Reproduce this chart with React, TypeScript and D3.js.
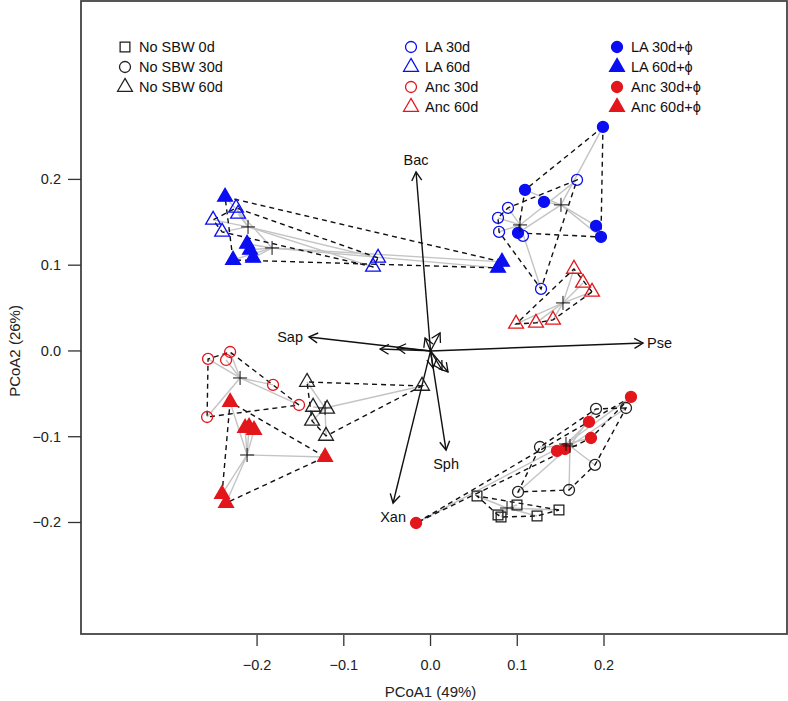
import React from 'react';
import * as d3 from 'd3';

type Pt = [number, number];

// sample scores on PCoA1 / PCoA2
const noSbw0d: Pt[] = [[0.0536, -0.1691], [0.0778, -0.1912], [0.0813, -0.1936], [0.0997, -0.1796], [0.1228, -0.1924], [0.1481, -0.1854]];
const noSbw30d: Pt[] = [[0.1908, -0.0676], [0.2254, -0.0665], [0.1262, -0.1120], [0.1896, -0.1329], [0.1009, -0.1644], [0.1597, -0.1621]];
const noSbw60d: Pt[] = [[-0.1424, -0.0362], [-0.1354, -0.0653], [-0.1193, -0.0676], [-0.1366, -0.0816], [-0.1205, -0.0991], [-0.0098, -0.0408]];
const la30d: Pt[] = [[0.1689, 0.1994], [0.0893, 0.1668], [0.0778, 0.1551], [0.0790, 0.1388], [0.1066, 0.1341], [0.1274, 0.0723]];
const la60d: Pt[] = [[-0.2242, 0.1668], [-0.2219, 0.1598], [-0.2507, 0.1528], [-0.2403, 0.1388], [-0.0605, 0.1085], [-0.0663, 0.0980]];
const anc30d: Pt[] = [[-0.2565, -0.0093], [-0.2311, -0.0012], [-0.2357, -0.0105], [-0.1816, -0.0396], [-0.1516, -0.0630], [-0.2576, -0.0770]];
const anc60d: Pt[] = [[0.1654, 0.0956], [0.1758, 0.0793], [0.1862, 0.0688], [0.1412, 0.0362], [0.1216, 0.0327], [0.0986, 0.0315]];
const la30dPhi: Pt[] = [[0.1988, 0.2612], [0.1089, 0.1878], [0.1308, 0.1738], [0.1908, 0.1458], [0.1965, 0.1329], [0.1009, 0.1376]];
const la60dPhi: Pt[] = [[-0.2369, 0.1796], [-0.2115, 0.1248], [-0.2081, 0.1178], [-0.2046, 0.1085], [-0.2277, 0.1061], [0.0824, 0.1038], [0.0778, 0.0968]];
const anc30dPhi: Pt[] = [[0.2311, -0.0536], [0.1827, -0.0828], [0.1850, -0.1015], [0.1458, -0.1166], [0.1550, -0.1143], [-0.0167, -0.2006]];
const anc60dPhi: Pt[] = [[-0.2311, -0.0595], [-0.2138, -0.0898], [-0.2092, -0.0886], [-0.2035, -0.0921], [-0.1216, -0.1236], [-0.2404, -0.1668], [-0.2357, -0.1773]];

// group centroids (spatial medians), same order as groupNames
const groupNames = ['No SBW 0d', 'No SBW 30d', 'No SBW 60d', 'LA 30d', 'LA 60d', 'Anc 30d', 'Anc 60d', 'LA 30d+ϕ', 'LA 60d+ϕ', 'Anc 30d+ϕ', 'Anc 60d+ϕ'];
const centroids: Pt[] = [[0.0882, -0.1831], [0.1608, -0.1108], [-0.1216, -0.0665], [0.1032, 0.1469], [-0.2104, 0.1446], [-0.2196, -0.0315], [0.1527, 0.0560], [0.1504, 0.1703], [-0.1827, 0.1201], [0.1562, -0.1085], [-0.2115, -0.1213]];
const groupShapes = ['square', 'circle', 'triangle', 'circle', 'triangle', 'circle', 'triangle', 'circle', 'triangle', 'circle', 'triangle'];
const groupColors = ['black', 'black', 'black', 'blue', 'blue', 'red', 'red', 'blue', 'blue', 'red', 'red'];
const groupFilled = [false, false, false, false, false, false, false, true, true, true, true];

// env-fit vectors
const vecNames = ['Bac', 'Pse', 'Sap', 'Xan', 'Sph'];
const vecTips: Pt[] = [[-0.0167, 0.2087], [0.2450, 0.0093], [-0.1401, 0.0163], [-0.0432, -0.1773], [0.0179, -0.1155]];
const minorTips: Pt[] = [[-0.0582, 0.0023], [-0.0386, 0.0035], [-0.0063, 0.0152], [0.0110, 0.0210], [0.0029, -0.0198], [0.0133, -0.0222], [0.0202, -0.0245]];

const xTicks = [-0.2, -0.1, 0.0, 0.1, 0.2];
const yTicks = [-0.2, -0.1, 0.0, 0.1, 0.2];

const legendCols = [
  ['No SBW 0d', 'No SBW 30d', 'No SBW 60d'],
  ['LA 30d', 'LA 60d', 'Anc 30d', 'Anc 60d'],
  ['LA 30d+ϕ', 'LA 60d+ϕ', 'Anc 30d+ϕ', 'Anc 60d+ϕ'],
];

const COL: Record<string, string> = { black: '#222', blue: '#0a0ef0', red: '#e3161c' };
const font = 'Liberation Sans, Arial, Helvetica, sans-serif';
const R = 5.5;

const Marker = ({ cx, cy, shape, color, filled }: any) => {
  const c = COL[color];
  const fill = filled ? c : 'none';
  if (shape === 'circle') return <circle cx={cx} cy={cy} r={R} fill={fill} stroke={c} strokeWidth={1.3} />;
  if (shape === 'square') {
    const h = R * 0.886;
    return <rect x={cx - h} y={cy - h} width={2 * h} height={2 * h} fill={fill} stroke={c} strokeWidth={1.3} />;
  }
  const r = 1.555 * R, xc = 1.347 * R, yc = 0.778 * R;
  return <path d={`M${cx},${cy - r}L${cx + xc},${cy + yc}L${cx - xc},${cy + yc}Z`} fill={fill} stroke={c} strokeWidth={1.3} strokeLinejoin="miter" />;
};

const head = (x0: number, y0: number, x1: number, y1: number) => {
  const a = Math.atan2(y1 - y0, x1 - x0), l = 10, h = Math.PI / 6;
  return `M${x1 - l * Math.cos(a - h)},${y1 - l * Math.sin(a - h)}L${x1},${y1}L${x1 - l * Math.cos(a + h)},${y1 - l * Math.sin(a + h)}`;
};

export default function App() {
  const W = 788, H = 701;
  const x = d3.scaleLinear().domain([-0.403, 0.411]).range([81, 787]);
  const y = d3.scaleLinear().domain([-0.330, 0.408]).range([634, 1]);
  const groupPts = [noSbw0d, noSbw30d, noSbw60d, la30d, la60d, anc30d, anc60d, la30dPhi, la60dPhi, anc30dPhi, anc60dPhi];
  const fmt = d3.format('.1f');

  const groups = groupNames.map((name, i) => ({
    name, pts: groupPts[i], c: centroids[i], shape: groupShapes[i], color: groupColors[i], filled: groupFilled[i],
  }));

  const line = d3.line();
  const x0 = x(0), y0 = y(0);

  return (
    <svg width={W} height={H} style={{ position: 'absolute', left: 0, top: 0, background: '#fff' }} fontFamily={font}>
      {/* spiders */}
      {groups.map((g) => g.pts.map((p, j) => (
        <line key={g.name + 's' + j} x1={x(g.c[0])} y1={y(g.c[1])} x2={x(p[0])} y2={y(p[1])} stroke="#c4c4c4" strokeWidth={1.4} />
      )))}
      {/* hulls */}
      {groups.map((g) => {
        const hull = d3.polygonHull(g.pts.map((p) => [x(p[0]), y(p[1])] as [number, number]));
        return hull ? <path key={g.name + 'h'} d={line(hull)! + 'Z'} fill="none" stroke="#111" strokeWidth={1.4} strokeDasharray="5 4" /> : null;
      })}
      {/* points */}
      {groups.map((g) => g.pts.map((p, j) => (
        <Marker key={g.name + 'p' + j} cx={x(p[0])} cy={y(p[1])} shape={g.shape} color={g.color} filled={g.filled} />
      )))}
      {/* centroids */}
      {groups.map((g) => {
        const cx = x(g.c[0]), cy = y(g.c[1]);
        return <path key={g.name + 'c'} d={`M${cx - 7},${cy}H${cx + 7}M${cx},${cy - 7}V${cy + 7}`} stroke="#111" strokeWidth={1} />;
      })}
      {/* vectors */}
      {minorTips.map((t, i) => {
        const tx = x(t[0]), ty = y(t[1]);
        return (
          <g key={'m' + i} stroke="#111" strokeWidth={1.3} fill="none">
            <line x1={x0} y1={y0} x2={tx} y2={ty} />
            <path d={head(x0, y0, tx, ty)} />
          </g>
        );
      })}
      {vecTips.map((t, i) => {
        const tx = x(t[0]), ty = y(t[1]);
        const dx = tx - x0, dy = ty - y0;
        let lx = tx, ly = ty, anchor = 'middle';
        if (Math.abs(dx) > Math.abs(dy)) {
          anchor = dx > 0 ? 'start' : 'end';
          lx = tx + (dx > 0 ? 4 : -6);
          ly = ty + 5;
        } else {
          ly = dy < 0 ? ty - 7 : ty + 19;
        }
        return (
          <g key={'v' + i}>
            <g stroke="#111" strokeWidth={1.4} fill="none">
              <line x1={x0} y1={y0} x2={tx} y2={ty} />
              <path d={head(x0, y0, tx, ty)} />
            </g>
            <text x={lx} y={ly} textAnchor={anchor} fontSize={14.5} fill="#111">{vecNames[i]}</text>
          </g>
        );
      })}
      {/* box */}
      <rect x={81} y={1} width={706} height={633} fill="none" stroke="#444" strokeWidth={1.8} />
      {/* axes */}
      {xTicks.map((t) => (
        <g key={'xt' + t}>
          <line x1={x(t)} x2={x(t)} y1={635} y2={646} stroke="#333" strokeWidth={1.3} />
          <text x={x(t)} y={670} textAnchor="middle" fontSize={14.5} fill="#222">{fmt(t)}</text>
        </g>
      ))}
      {yTicks.map((t) => (
        <g key={'yt' + t}>
          <line x1={68} x2={81} y1={y(t)} y2={y(t)} stroke="#333" strokeWidth={1.3} />
          <text x={61} y={y(t) + 5} textAnchor="end" fontSize={14.5} fill="#222">{fmt(t)}</text>
        </g>
      ))}
      <text x={x(0)} y={697} textAnchor="middle" fontSize={15} fill="#222">PCoA1 (49%)</text>
      <text transform={`translate(20,${y(0)}) rotate(-90)`} textAnchor="middle" fontSize={15} fill="#222">PCoA2 (26%)</text>
      {/* legend */}
      {legendCols.map((col, ci) => col.map((lab, ri) => {
        const gi = groupNames.indexOf(lab);
        const lxs = [125, 411, 617];
        const sx = lxs[ci], sy = 47 + ri * 20;
        return (
          <g key={lab}>
            <Marker cx={sx} cy={sy} shape={groupShapes[gi]} color={groupColors[gi]} filled={groupFilled[gi]} />
            <text x={sx + 14} y={sy + 5} fontSize={14.5} fill="#111">{lab}</text>
          </g>
        );
      }))}
    </svg>
  );
}
